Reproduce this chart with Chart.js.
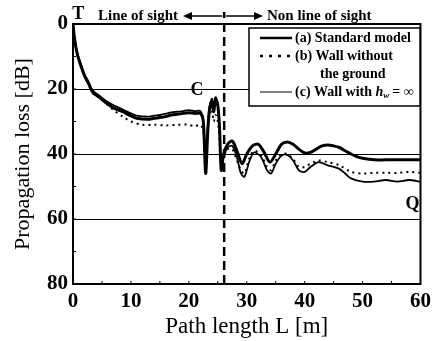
<!DOCTYPE html>
<html>
<head>
<meta charset="utf-8">
<script src="https://cdn.jsdelivr.net/npm/chart.js@4"></script>
<style>
  html, body { margin: 0; padding: 0; background: #fff; }
  #wrap { width: 436px; height: 341px; }
</style>
</head>
<body>
<div id="wrap"><canvas id="lossChart"></canvas></div>
<script>
// Datos: [L en m, pérdida en dB]
const standardModel = [
  [0, 0], [0.3, 5], [0.7, 9], [1.2, 12], [2, 16], [2.6, 18], [3.4, 21], [4.5, 22.5],
  [5.8, 24.4], [7, 25.8], [8.6, 27], [10, 28.3], [11, 29], [12.9, 29.3], [14, 29],
  [15, 28.8], [16, 28.5], [17, 28], [18, 27.8], [19, 27.5], [20, 27.3], [21, 27.5],
  [22, 27.5], [22.5, 30], [22.9, 46], [23.3, 32], [23.6, 26], [24, 24], [24.3, 27],
  [24.6, 23], [25, 25], [25.3, 32], [25.6, 45], [26, 40], [26.7, 37], [27.5, 36],
  [28.3, 39], [29.2, 43], [30, 40], [31, 37.5], [32, 37], [33, 39.5], [34, 42.5],
  [35, 40], [36, 37], [37, 36.3], [38, 37], [39, 38.5], [40, 39.7], [41, 39.5],
  [42, 38.5], [43, 37.5], [44, 37.2], [45, 37.5], [46, 38], [47, 39], [48, 40],
  [49, 40.8], [50, 41.3], [52, 41.8], [54, 41.8], [56, 41.8], [58, 41.8], [60, 41.8]
];
const wallNoGround = [
  [0, 0], [0.3, 5], [0.7, 9], [1.2, 12], [2, 16], [2.6, 18], [3.4, 21], [4.5, 22.5],
  [5.8, 24.6], [7, 26.5], [8.6, 28.5], [10, 30], [12, 31], [14, 31], [16, 31.2],
  [18, 31], [20, 31], [21, 31.5], [22, 31], [22.5, 33], [22.9, 44], [23.3, 32],
  [23.6, 28], [24, 27], [24.3, 30], [24.6, 28], [25, 30], [25.3, 36], [25.6, 44],
  [26, 41], [26.7, 38.5], [27.5, 38.5], [28.3, 42], [29, 45], [29.6, 46], [30.5, 41],
  [31.3, 39], [32.5, 40.5], [33.5, 44], [34.2, 45], [35, 42], [36, 40], [37, 40],
  [38, 41.5], [39, 44], [40, 44], [41, 43], [42.4, 42], [44, 42.5], [46, 43.5],
  [48, 45.5], [50, 46], [52, 45.8], [54, 45.8], [56, 45.8], [58, 45.5], [60, 45.8]
];
const wallInfinite = [
  [0, 0], [0.3, 4.5], [0.7, 8.5], [1.2, 11.5], [2, 15.5], [2.6, 17.5], [3.4, 20.5],
  [4.5, 22], [5.8, 23.8], [7, 25], [8.6, 26.3], [10, 27.5], [11, 28.2], [12.9, 28.5],
  [14, 28.2], [15, 28], [16, 27.6], [17, 27.2], [18, 27], [19, 26.8], [20, 26.5],
  [21, 26.8], [22, 26.8], [22.5, 30], [22.9, 45], [23.3, 31], [23.6, 25], [24, 23],
  [24.3, 26], [24.6, 22.5], [25, 25], [25.3, 33], [25.6, 44], [26, 41], [26.7, 38],
  [27.5, 37.5], [28.3, 41], [29, 46], [29.6, 47], [30.5, 42], [31.3, 39.5], [32.5, 41],
  [33.5, 45], [34.2, 46], [35, 43], [36, 40.5], [37, 40.3], [38, 42], [39, 45],
  [40, 45.5], [41, 44], [42.4, 42.5], [44, 43.5], [45.9, 44.5], [47, 46], [48, 47.5],
  [50, 48.5], [52, 48.5], [54, 48], [56, 48.5], [58, 48], [60, 48.5]
];
const xTicks = [0, 10, 20, 30, 40, 50, 60];
const yTicks = [0, 20, 40, 60, 80];
const losBoundary = 26.1; // límite visión directa / sin visión directa
const legendLabels = ['(a) Standard model', '(b) Wall without', 'the ground', '(c) Wall with '];

const toXY = arr => arr.map(([x, y]) => ({ x, y }));
const serif = '"Liberation Serif", "DejaVu Serif", serif';

// Marco, línea discontinua, textos y leyenda
const decorations = {
  id: 'decorations',
  afterDatasetsDraw(chart) {
    const { ctx, chartArea: a, scales: { x, y } } = chart;
    ctx.save();

    // Marcas menores hacia dentro
    ctx.strokeStyle = '#000';
    ctx.lineWidth = 1;
    for (let v = 5; v < 60; v += 5) {
      const px = x.getPixelForValue(v);
      ctx.beginPath(); ctx.moveTo(px, a.bottom); ctx.lineTo(px, a.bottom - 3); ctx.stroke();
    }
    for (let v = 10; v < 80; v += 10) {
      const py = y.getPixelForValue(v);
      ctx.beginPath(); ctx.moveTo(a.left, py); ctx.lineTo(a.left + 3, py); ctx.stroke();
    }

    // Marco
    ctx.lineWidth = 2;
    ctx.strokeRect(a.left, a.top, a.right - a.left, a.bottom - a.top);

    // Línea discontinua en el límite
    const bx = x.getPixelForValue(losBoundary);
    ctx.lineWidth = 2.5;
    ctx.setLineDash([9, 5]);
    ctx.beginPath(); ctx.moveTo(bx, a.bottom); ctx.lineTo(bx, a.top - 12); ctx.stroke();
    ctx.setLineDash([]);

    // Flechas
    const ay = a.top - 8;
    ctx.lineWidth = 1.5;
    ctx.beginPath(); ctx.moveTo(bx - 2, ay); ctx.lineTo(187, ay); ctx.stroke();
    ctx.beginPath(); ctx.moveTo(bx + 2, ay); ctx.lineTo(258, ay); ctx.stroke();
    ctx.beginPath(); ctx.moveTo(183, ay); ctx.lineTo(192, ay - 4); ctx.lineTo(192, ay + 4); ctx.fill();
    ctx.beginPath(); ctx.moveTo(263, ay); ctx.lineTo(254, ay - 4); ctx.lineTo(254, ay + 4); ctx.fill();

    ctx.fillStyle = '#000';
    ctx.textBaseline = 'middle';
    ctx.font = `bold 15px ${serif}`;
    ctx.textAlign = 'right';
    ctx.fillText('Line of sight', 178, ay);
    ctx.textAlign = 'left';
    ctx.fillText('Non line of sight', 267, ay);

    // Etiquetas T, C, Q
    ctx.font = `bold 18px ${serif}`;
    ctx.textAlign = 'center';
    ctx.fillText('T', x.getPixelForValue(0.9), a.top - 10);
    ctx.fillText('C', x.getPixelForValue(21.4), y.getPixelForValue(20.5));
    ctx.fillText('Q', x.getPixelForValue(58.6), y.getPixelForValue(55.5));

    // Leyenda
    const lx = 249, ly = 28, lw = 171, lh = 78;
    ctx.fillStyle = '#fff';
    ctx.fillRect(lx, ly, lw, lh);
    ctx.strokeStyle = '#000';
    ctx.lineWidth = 1.5;
    ctx.strokeRect(lx, ly, lw, lh);
    const rows = [38, 56, 74, 92];
    const s0 = 260, s1 = 292;
    ctx.lineWidth = 2.5;
    ctx.beginPath(); ctx.moveTo(s0, rows[0]); ctx.lineTo(s1, rows[0]); ctx.stroke();
    ctx.setLineDash([3, 6]);
    ctx.lineWidth = 2.5;
    ctx.beginPath(); ctx.moveTo(s0, rows[1]); ctx.lineTo(s1, rows[1]); ctx.stroke();
    ctx.setLineDash([]);
    ctx.lineWidth = 1;
    ctx.beginPath(); ctx.moveTo(s0, rows[3]); ctx.lineTo(s1, rows[3]); ctx.stroke();

    ctx.fillStyle = '#000';
    ctx.textAlign = 'left';
    ctx.font = `bold 14px ${serif}`;
    ctx.fillText(legendLabels[0], 295, rows[0]);
    ctx.fillText(legendLabels[1], 295, rows[1]);
    ctx.fillText(legendLabels[2], 320, rows[2]);
    ctx.fillText(legendLabels[3], 295, rows[3]);
    let tx = 295 + ctx.measureText(legendLabels[3]).width;
    ctx.font = `italic bold 14px ${serif}`;
    ctx.fillText('h', tx, rows[3]);
    tx += ctx.measureText('h').width;
    ctx.font = `italic bold 9px ${serif}`;
    ctx.fillText('w', tx, rows[3] + 4);
    tx += ctx.measureText('w').width + 3;
    ctx.font = `bold 14px ${serif}`;
    ctx.fillText('= \u221e', tx, rows[3]);

    ctx.restore();
  }
};

new Chart(document.getElementById('lossChart'), {
  type: 'line',
  data: {
    datasets: [
      {
        label: '(c) Wall with hw = ∞',
        data: toXY(wallInfinite),
        borderColor: '#000',
        borderWidth: 1.8,
        pointRadius: 0,
        tension: 0.3
      },
      {
        label: '(b) Wall without the ground',
        data: toXY(wallNoGround),
        borderColor: '#000',
        borderWidth: 2,
        borderDash: [2, 4],
        pointRadius: 0,
        tension: 0.3
      },
      {
        label: '(a) Standard model',
        data: toXY(standardModel),
        borderColor: '#000',
        borderWidth: 3,
        pointRadius: 0,
        tension: 0.3
      }
    ]
  },
  options: {
    responsive: true,
    maintainAspectRatio: false,
    animation: false,
    layout: { padding: { top: 24, right: 14, left: 10, bottom: 0 } },
    plugins: {
      legend: { display: false },
      tooltip: { enabled: false }
    },
    scales: {
      x: {
        type: 'linear',
        min: 0,
        max: 60,
        afterBuildTicks: s => { s.ticks = xTicks.map(v => ({ value: v })); },
        afterFit: s => { s.height = 57; },
        grid: { display: false, drawTicks: false },
        border: { display: false },
        ticks: {
          color: '#000',
          padding: 5,
          font: { family: serif, size: 21, weight: 'bold' }
        },
        title: {
          display: true,
          text: 'Path length L [m]',
          color: '#000',
          padding: { top: 0, bottom: 0 },
          font: { family: serif, size: 23 }
        }
      },
      y: {
        type: 'linear',
        reverse: true,
        min: 0,
        max: 80,
        afterBuildTicks: s => { s.ticks = yTicks.map(v => ({ value: v })); },
        afterFit: s => { s.width = 63; },
        grid: { color: '#000', lineWidth: 1, drawTicks: false },
        border: { display: false },
        ticks: {
          color: '#000',
          padding: 5,
          font: { family: serif, size: 21, weight: 'bold' }
        },
        title: {
          display: true,
          text: 'Propagation loss [dB]',
          color: '#000',
          padding: { top: 0, bottom: 0 },
          font: { family: serif, size: 22 }
        }
      }
    }
  },
  plugins: [decorations]
});
</script>
</body>
</html>
